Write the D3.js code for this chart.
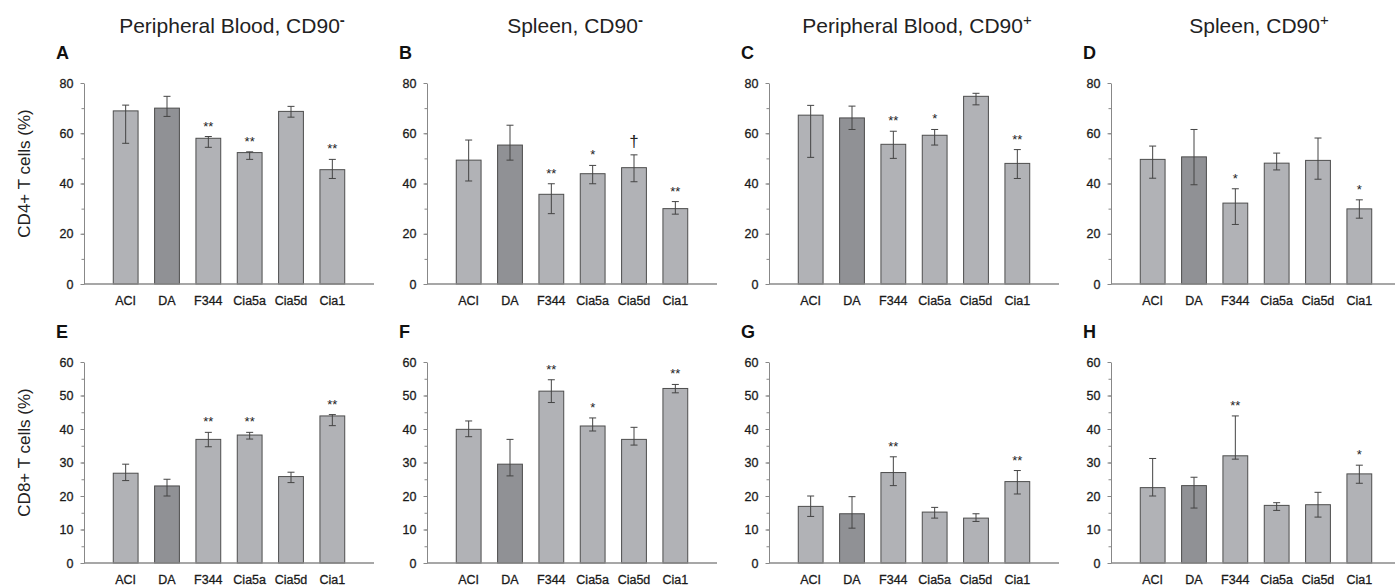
<!DOCTYPE html>
<html>
<head>
<meta charset="utf-8">
<script src="https://cdn.jsdelivr.net/npm/d3@7"></script>
<style>
  body { margin: 0; background: #fff; }
  svg { font-family: "Liberation Sans", Arial, sans-serif; }
</style>
</head>
<body>
<div id="chart"></div>
<script>
const categories = ["ACI", "DA", "F344", "Cia5a", "Cia5d", "Cia1"];

// top row: CD4+ T cells (%)
const meanA = [68.9, 70.0, 58.0, 52.3, 68.7, 45.5];
const hiA = [71.2, 74.7, 58.7, 52.6, 70.7, 49.6];
const loA = [56.0, 66.7, 54.4, 49.6, 66.4, 42.0];
const sigA = ["", "", "**", "**", "", "**"];

const meanB = [49.3, 55.3, 35.7, 43.9, 46.3, 30.0];
const hiB = [57.3, 63.2, 39.9, 47.2, 51.4, 32.8];
const loB = [41.0, 49.3, 28.0, 39.9, 40.7, 27.8];
const sigB = ["", "", "**", "*", "†", "**"];

const meanC = [67.2, 66.1, 55.6, 59.2, 74.7, 48.0];
const hiC = [71.1, 70.8, 60.8, 61.5, 75.9, 53.5];
const loC = [50.4, 61.5, 50.0, 55.3, 71.3, 42.0];
const sigC = ["", "", "**", "*", "", "**"];

const meanD = [49.6, 50.6, 32.2, 48.1, 49.2, 29.9];
const hiD = [54.9, 61.5, 37.9, 52.1, 58.1, 33.5];
const loD = [42.1, 39.5, 23.7, 45.4, 41.7, 26.2];
const sigD = ["", "", "*", "", "", "*"];

// bottom row: CD8+ T cells (%)
const meanE = [26.8, 23.0, 36.9, 38.2, 25.8, 43.9];
const hiE = [29.5, 25.0, 39.0, 39.0, 27.1, 44.3];
const loE = [24.6, 20.0, 34.7, 37.0, 24.0, 41.0];
const sigE = ["", "", "**", "**", "", "**"];

const meanF = [39.9, 29.5, 51.3, 40.9, 36.9, 52.1];
const hiF = [42.4, 36.9, 54.7, 43.3, 40.5, 53.3];
const loF = [37.7, 26.0, 47.9, 39.4, 35.2, 50.8];
const sigF = ["", "", "**", "*", "", "**"];

const meanG = [16.9, 14.7, 27.0, 15.2, 13.4, 24.3];
const hiG = [20.0, 19.8, 31.7, 16.6, 14.7, 27.6];
const loG = [13.9, 10.4, 23.1, 13.4, 12.4, 20.6];
const sigG = ["", "", "**", "", "", "**"];

const meanH = [22.5, 23.1, 32.0, 17.2, 17.4, 26.6];
const hiH = [31.2, 25.6, 43.9, 18.0, 21.1, 29.2];
const loH = [20.0, 16.4, 31.0, 15.7, 13.7, 23.8];
const sigH = ["", "", "**", "", "", "*"];

const titles = ["Peripheral Blood, CD90", "Spleen, CD90", "Peripheral Blood, CD90", "Spleen, CD90"];
const titleSup = ["-", "-", "+", "+"];
const yTitles = ["CD4+ T cells (%)", "CD8+ T cells (%)"];
const rowMax = [80, 60];
const rowMajor = [20, 10];
const rowMinor = [10, 5];

const panels = [
	{ letter: "A", row: 0, col: 0, mean: meanA, hi: hiA, lo: loA, sig: sigA },
	{ letter: "B", row: 0, col: 1, mean: meanB, hi: hiB, lo: loB, sig: sigB },
	{ letter: "C", row: 0, col: 2, mean: meanC, hi: hiC, lo: loC, sig: sigC },
	{ letter: "D", row: 0, col: 3, mean: meanD, hi: hiD, lo: loD, sig: sigD },
	{ letter: "E", row: 1, col: 0, mean: meanE, hi: hiE, lo: loE, sig: sigE },
	{ letter: "F", row: 1, col: 1, mean: meanF, hi: hiF, lo: loF, sig: sigF },
	{ letter: "G", row: 1, col: 2, mean: meanG, hi: hiG, lo: loG, sig: sigG },
	{ letter: "H", row: 1, col: 3, mean: meanH, hi: hiH, lo: loH, sig: sigH }
];

const W = 1395, H = 588;
const colX = [84, 427, 769, 1111];
const rowTop = [83, 362];
const plotH = 201, plotW = 290;

const svg = d3.select("#chart").append("svg")
	.attr("width", W)
	.attr("height", H);

// column titles
svg.selectAll("text.title")
	.data(titles)
	.enter()
	.append("text")
	.attr("class", "title")
	.attr("x", (d, i) => colX[i] + plotW / 2 + 3)
	.attr("y", 33)
	.attr("text-anchor", "middle")
	.attr("fill", "#222")
	.style("font-size", "21px")
	.each(function (d, i) {
		const t = d3.select(this);
		t.append("tspan").text(d);
		t.append("tspan")
			.attr("dy", -8)
			.style("font-size", "15px")
			.style("font-weight", titleSup[i] === "-" ? "bold" : "normal")
			.text(titleSup[i]);
	});

const x = d3.scaleBand()
	.domain(categories)
	.range([21, 269])
	.paddingInner(0.4)
	.paddingOuter(0.2);

panels.forEach((p) => {
	const g = svg.append("g")
		.attr("transform", `translate(${colX[p.col]},${rowTop[p.row]})`);

	const y = d3.scaleLinear().domain([0, rowMax[p.row]]).range([plotH, 0]);

	// panel letter
	g.append("text")
		.attr("x", -28)
		.attr("y", -24)
		.attr("fill", "#111")
		.style("font-size", "18px")
		.style("font-weight", "bold")
		.text(p.letter);

	// y title on the left column
	if (p.col === 0) {
		g.append("text")
			.attr("transform", `translate(${-54},${plotH / 2 - 10}) rotate(-90)`)
			.attr("text-anchor", "middle")
			.attr("fill", "#222")
			.style("font-size", "17px")
			.text(yTitles[p.row]);
	}

	// minor ticks
	g.append("g")
		.call(d3.axisLeft(y)
			.tickValues(d3.range(0, rowMax[p.row] + 0.01, rowMinor[p.row]))
			.tickSize(2.5)
			.tickFormat(""))
		.call((a) => a.select(".domain").remove())
		.call((a) => a.selectAll("line").attr("stroke", "#888"));

	// major ticks + axis line
	g.append("g")
		.call(d3.axisLeft(y)
			.tickValues(d3.range(0, rowMax[p.row] + 0.01, rowMajor[p.row]))
			.tickSize(3.5)
			.tickSizeOuter(0)
			.tickPadding(7))
		.call((a) => a.select(".domain").attr("stroke", "#888"))
		.call((a) => a.selectAll("line").attr("stroke", "#888"))
		.call((a) => a.selectAll("text")
			.attr("fill", "#1a1a1a")
			.attr("stroke", "#1a1a1a")
			.attr("stroke-width", 0.3)
			.style("font-size", "12.5px")
			.style("font-family", "\"Liberation Sans\", Arial, sans-serif"));

	const rows = categories.map((c, i) => ({ cat: c, mean: p.mean[i], hi: p.hi[i], lo: p.lo[i], sig: p.sig[i] }));

	// bars
	g.selectAll("rect.bar")
		.data(rows)
		.enter()
		.append("rect")
		.attr("class", "bar")
		.attr("x", (d) => x(d.cat))
		.attr("y", (d) => y(d.mean))
		.attr("width", x.bandwidth())
		.attr("height", (d) => y(0) - y(d.mean))
		.attr("fill", (d) => d.cat === "DA" ? "#909195" : "#b1b2b6")
		.attr("stroke", "#4d4d4d")
		.attr("stroke-width", 1);

	// x axis baseline
	g.append("line")
		.attr("x1", 0)
		.attr("x2", plotW)
		.attr("y1", y(0))
		.attr("y2", y(0))
		.attr("stroke", "#8a8a8a")
		.attr("stroke-width", 1.5);

	// error bars
	const eb = g.selectAll("g.err")
		.data(rows)
		.enter()
		.append("g")
		.attr("class", "err")
		.attr("transform", (d) => `translate(${x(d.cat) + x.bandwidth() / 2},0)`)
		.attr("stroke", "#444")
		.attr("stroke-width", 1);
	eb.append("line").attr("y1", (d) => y(d.hi)).attr("y2", (d) => y(d.lo));
	eb.append("line").attr("x1", -3.5).attr("x2", 3.5).attr("y1", (d) => y(d.hi)).attr("y2", (d) => y(d.hi));
	eb.append("line").attr("x1", -3.5).attr("x2", 3.5).attr("y1", (d) => y(d.lo)).attr("y2", (d) => y(d.lo));

	// significance marks
	g.selectAll("text.sig")
		.data(rows.filter((d) => d.sig))
		.enter()
		.append("text")
		.attr("class", "sig")
		.attr("x", (d) => x(d.cat) + x.bandwidth() / 2)
		.attr("y", (d) => y(d.hi) - (d.sig === "†" ? 8 : 6))
		.attr("text-anchor", "middle")
		.attr("fill", "#222")
		.style("font-size", (d) => d.sig === "†" ? "17px" : "13px")
		.text((d) => d.sig);

	// category labels
	g.selectAll("text.cat")
		.data(categories)
		.enter()
		.append("text")
		.attr("class", "cat")
		.attr("x", (d) => x(d) + x.bandwidth() / 2)
		.attr("y", plotH + 21)
		.attr("text-anchor", "middle")
		.attr("fill", "#1a1a1a")
		.attr("stroke", "#1a1a1a")
		.attr("stroke-width", 0.3)
		.style("font-size", "12.5px")
		.text((d) => d);
});
</script>
</body>
</html>
